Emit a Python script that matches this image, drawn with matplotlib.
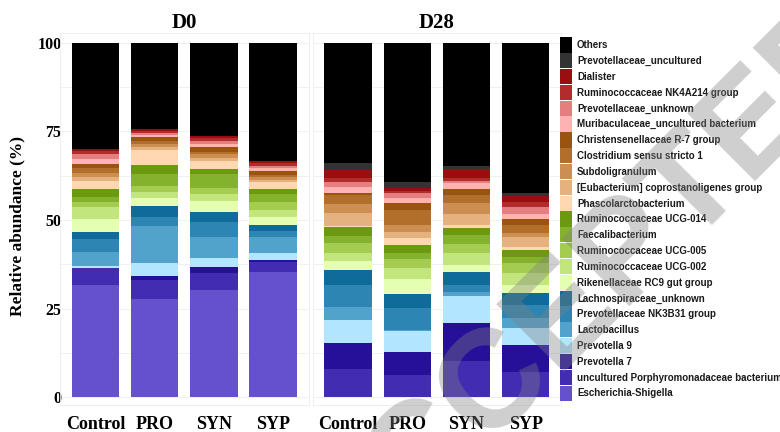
import matplotlib
matplotlib.use("Agg")
import matplotlib.pyplot as plt
from matplotlib.patches import Rectangle
import numpy as np

# ---------------- data ----------------
days = ["D0", "D28"]
groups = ["Control", "PRO", "SYN", "SYP"]

# legend order (top of stack -> bottom of stack)
taxa = [
    "Others", "Prevotellaceae_uncultured", "Dialister",
    "Ruminococcaceae NK4A214 group", "Prevotellaceae_unknown",
    "Muribaculaceae_uncultured bacterium", "Christensenellaceae R-7 group",
    "Clostridium sensu stricto 1", "Subdoligranulum",
    "[Eubacterium] coprostanoligenes group", "Phascolarctobacterium",
    "Ruminococcaceae UCG-014", "Faecalibacterium", "Ruminococcaceae UCG-005",
    "Ruminococcaceae UCG-002", "Rikenellaceae RC9 gut group",
    "Lachnospiraceae_unknown", "Prevotellaceae NK3B31 group", "Lactobacillus",
    "Prevotella 9", "Prevotella 7", "uncultured Porphyromonadaceae bacterium",
    "Escherichia-Shigella",
]
colors = [
    "#000000", "#333333", "#990F0F", "#B22C2C", "#E57E7E", "#FFB2B2",
    "#99540F", "#B26F2C", "#CC8E51", "#E5B17E", "#FFD8B2",
    "#6B990F", "#85B22C", "#A3CC51", "#C3E57E", "#E5FFB2",
    "#0F6B99", "#2C85B2", "#51A3CC", "#B2E5FF",
    "#260F99", "#422CB2", "#6551CC",
]

# values: D0 Control, PRO, SYN, SYP, D28 Control, PRO, SYN, SYP
others       = [30.0, 24.3, 26.2, 33.4, 34.0, 39.4, 34.8, 42.5]
prev_uncult  = [0.0, 0.0, 0.0, 0.0, 1.9, 1.7, 0.9, 0.7]
dialister    = [0.5, 0.5, 0.6, 0.6, 2.3, 0.6, 2.5, 1.6]
nk4a214      = [1.0, 0.8, 0.8, 0.7, 1.0, 0.8, 0.7, 1.4]
prev_unknown = [1.3, 0.5, 1.0, 0.7, 1.6, 1.4, 0.8, 2.1]
muribac      = [1.3, 0.6, 0.9, 0.7, 1.7, 1.4, 1.6, 1.5]
christ       = [1.3, 0.9, 1.2, 1.1, 0.5, 1.9, 1.7, 1.6]
clostr       = [1.4, 1.0, 0.8, 0.7, 2.5, 4.2, 2.1, 2.2]
subdoli      = [1.0, 0.9, 0.9, 0.7, 2.4, 1.9, 3.2, 1.3]
eubact       = [1.2, 0.8, 0.9, 0.6, 3.8, 1.9, 3.1, 2.6]
phascol      = [2.3, 4.2, 2.4, 2.1, 0.4, 1.9, 0.9, 1.0]
ucg014       = [2.1, 2.5, 1.4, 1.4, 2.4, 2.1, 1.9, 1.8]
faecali      = [1.4, 3.3, 3.8, 2.3, 1.9, 1.9, 2.6, 1.9]
ucg005       = [1.6, 1.7, 1.8, 2.2, 2.8, 2.5, 2.4, 2.8]
ucg002       = [3.3, 1.9, 1.9, 2.0, 2.4, 3.1, 3.5, 3.3]
rc9          = [3.6, 2.2, 3.2, 2.2, 2.5, 4.2, 1.9, 2.4]
lachno       = [2.1, 3.1, 2.7, 1.7, 4.2, 4.0, 3.7, 3.3]
nk3b31       = [3.7, 2.5, 4.2, 1.6, 6.3, 6.1, 1.9, 3.7]
lacto        = [3.8, 10.3, 6.1, 4.5, 3.6, 0.3, 1.2, 2.8]
prev9        = [0.6, 3.8, 2.4, 2.1, 6.4, 5.8, 7.7, 4.8]
prev7        = [0.0, 1.1, 1.7, 0.5, 7.5, 6.6, 10.7, 7.5]
porph        = [4.8, 5.4, 4.7, 2.8, 7.7, 6.1, 10.0, 7.0]
esch         = [31.7, 27.7, 30.4, 35.4, 0.2, 0.2, 0.2, 0.2]

values = [others, prev_uncult, dialister, nk4a214, prev_unknown, muribac,
          christ, clostr, subdoli, eubact, phascol, ucg014, faecali, ucg005,
          ucg002, rc9, lachno, nk3b31, lacto, prev9, prev7, porph, esch]

yticks = [0, 25, 50, 75, 100]

# ---------------- figure ----------------
W, H = 780, 432
fig = plt.figure(figsize=(W / 100, H / 100), dpi=100)
serif = ["Liberation Serif", "DejaVu Serif"]

panel_w = 248.6
lefts = [60, 312.5]
for d, (day, lx) in enumerate(zip(days, lefts)):
    ax = fig.add_axes([lx / W, 27 / H, panel_w / W, 372 / H])
    x = np.arange(1, len(groups) + 1)
    bottom = np.zeros(len(groups))
    for vals, col in zip(values[::-1], colors[::-1]):
        v = np.array(vals[d * 4:(d + 1) * 4])
        ax.bar(x, v, 0.8, bottom=bottom, color=col, linewidth=0, zorder=2)
        bottom += v
    ax.set_xlim(0.4, 4.6)
    ax.set_ylim(-2.17, 102.74)
    ax.set_xticks(x)
    ax.set_xticklabels(groups, fontfamily=serif, fontweight="bold", fontsize=13)
    ax.set_yticks(yticks)
    ax.set_yticks([12.5, 37.5, 62.5, 87.5], minor=True)
    ax.grid(True, axis="y", which="both", color="#eeeeee", linewidth=0.6, zorder=0)
    ax.set_axisbelow(True)
    ax.tick_params(axis="both", which="both", length=0)
    ax.tick_params(axis="x", pad=8)
    ax.tick_params(axis="y", pad=-1)
    for s in ax.spines.values():
        s.set_color("#ececec")
        s.set_linewidth(0.6)
    ax.set_title(day, fontfamily=serif, fontweight="bold", fontsize=15, pad=3)
    if d == 0:
        ax.set_yticklabels([str(t) for t in yticks], fontfamily=serif,
                           fontweight="bold", fontsize=11.5)
        ax.set_ylabel("Relative abundance (%)", fontfamily=serif,
                      fontweight="bold", fontsize=12.5)
        ax.yaxis.set_label_coords((25 - 60) / panel_w, 0.48)
    else:
        ax.set_yticklabels([])

# legend (drawn as key boxes + labels)
row_h = 15.83
top0 = 37.3
for i, (name, col) in enumerate(zip(taxa, colors)):
    y_top = top0 + i * row_h
    fig.add_artist(Rectangle((560 / W, 1 - (y_top + row_h - 0.6) / H),
                             12 / W, (row_h - 0.6) / H,
                             transform=fig.transFigure, facecolor=col,
                             edgecolor="none"))
    fig.text(577 / W, 1 - (y_top + row_h / 2) / H, name,
             fontfamily="Liberation Sans", fontweight="bold", fontsize=7.0,
             color="#1a1a1a", ha="left", va="center")

# watermark
fig.text(345 / W, 1 - 588 / H, "ACCEPTED", rotation=45, fontsize=100,
         fontfamily="Liberation Sans", fontweight="bold", color="#808080",
         alpha=0.38, ha="left", va="baseline", rotation_mode="anchor",
         zorder=10)

fig.savefig("out.png", dpi=100)
